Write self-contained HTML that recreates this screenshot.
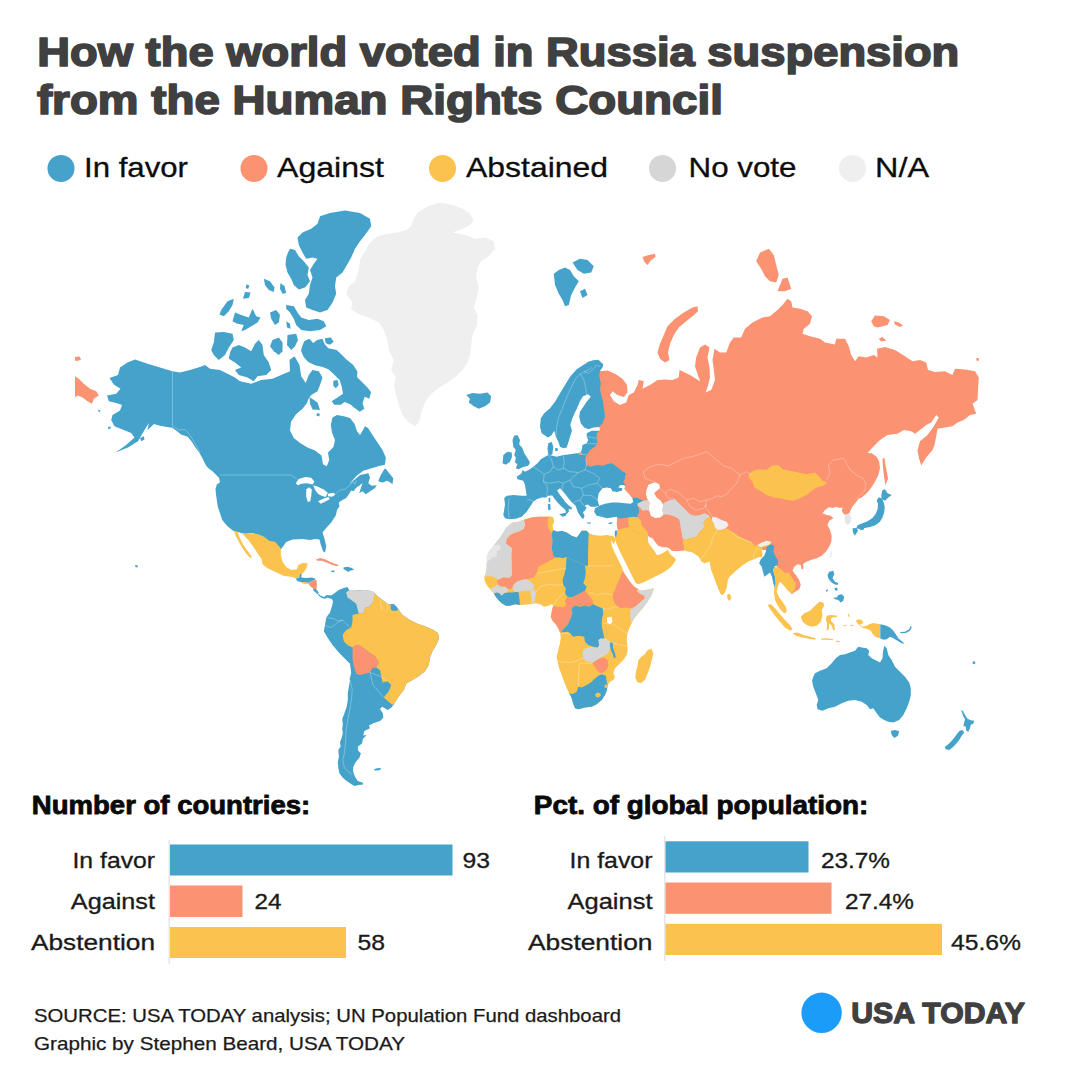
<!DOCTYPE html>
<html><head><meta charset="utf-8">
<style>
html,body{margin:0;padding:0;background:#fff;}
body{width:1080px;height:1080px;overflow:hidden;position:relative;font-family:"Liberation Sans",sans-serif;}
svg{position:absolute;left:0;top:0;}
text{font-family:"Liberation Sans",sans-serif;}
.t{font-weight:bold;fill:#404040;font-size:41px;stroke:#404040;stroke-width:1.7px;stroke-linejoin:round;}
.lg{font-size:28px;fill:#0d0d0d;stroke:#0d0d0d;stroke-width:.3px;}
.h{font-weight:bold;fill:#0a0a0a;font-size:25px;stroke:#0a0a0a;stroke-width:.8px;stroke-linejoin:round;}
.lb{font-size:21.5px;fill:#1a1a1a;stroke:#1a1a1a;stroke-width:.3px;}
.src{font-size:19px;fill:#1a1a1a;stroke:#1a1a1a;stroke-width:.25px;}
</style></head><body>
<svg width="1080" height="1080" viewBox="0 0 1080 1080">
<rect width="1080" height="1080" fill="#fff"/>
<!-- title -->
<text class="t" x="37.3" y="65.6" textLength="922" lengthAdjust="spacingAndGlyphs">How the world voted in Russia suspension</text>
<text class="t" x="36.9" y="113.6" textLength="686" lengthAdjust="spacingAndGlyphs">from the Human Rights Council</text>
<!-- legend -->
<circle cx="61" cy="168.4" r="13.5" fill="#44a2cb"/>
<text class="lg" x="84" y="176.5" textLength="104" lengthAdjust="spacingAndGlyphs">In favor</text>
<circle cx="254" cy="168.4" r="13.5" fill="#fb9272"/>
<text class="lg" x="277" y="176.5" textLength="107" lengthAdjust="spacingAndGlyphs">Against</text>
<circle cx="442.5" cy="168.4" r="13.5" fill="#fcc24e"/>
<text class="lg" x="466" y="176.5" textLength="142" lengthAdjust="spacingAndGlyphs">Abstained</text>
<circle cx="662.5" cy="168.4" r="13.5" fill="#d6d6d6"/>
<text class="lg" x="688.5" y="176.5" textLength="108" lengthAdjust="spacingAndGlyphs">No vote</text>
<circle cx="852.5" cy="168.4" r="13.5" fill="#efefef"/>
<text class="lg" x="875" y="176.5" textLength="54" lengthAdjust="spacingAndGlyphs">N/A</text>
<!-- MAP -->
<g id="map" stroke-linejoin="round">
<path fill="#44a2cb" d="M172.5,371.2 160,367.5 147.5,363.8 135,359.5 127.5,362.5 120,367.5 118,375 109.5,378 113.8,384.5 120.5,388.8 116.2,393.8 107,395.5 108.8,401.2 116.2,403 122,405 120,410.5 112.5,415 111.2,420 114.5,426.2 122.5,429.5 131.2,433 134.5,437.5 125.5,445.5 115.5,452.5 128,447.5 138,441.2 144.5,430 148.8,423 147.5,430 154,424 159,425.5 165.5,426.8 172.2,427.8 176.8,431 181,434.5 187.8,436.8 192.2,442.2 195.5,447.8 199,452.2 202.2,457.8 205.5,464.5 207.8,467.8 212.2,471 216.8,475.5 219,477.8 220,482.2 216.8,484.5 215.5,489 216,494.5 216.8,500 217.8,506.8 220,513.2 222.2,520 227.5,526.2 233.8,531.2 245,533.8 252.5,533 260,535.5 265,538.8 272.5,545 280.5,550 286.2,542 292.5,539.5 302.5,539 310,540 315,539 319.5,539.5 320.5,543.8 323,551.2 325,552.5 326.2,546.2 324.5,538.8 322.5,532.5 326.2,528 331.2,522.5 335.8,515.5 337,510 339.5,506.2 338.8,502.5 342.5,500 346.2,498 349.2,493.8 351.2,490.5 353.8,491.2 355.8,488 359.5,485.5 362.5,483 359.2,493.3 362.5,491.3 365.8,494.2 375,488 376.7,485.3 371.7,485.8 368.3,483.3 370,477.5 368.3,473.3 360,475 353.3,480.8 349.2,484.2 356.7,475.8 363.3,470.8 371.7,468.3 380,465.8 385,464.7 385.8,457.5 382.5,450 377.5,442.5 372.5,435 368,428 365,426.2 363,430 360,435 357,431.2 354.5,423.8 350,418 343.8,416.2 337,415 332.5,417.5 330.8,425 332,432.5 335,440 333.5,447 328,452.5 329.2,460 326.8,466.2 323,464.2 321.5,455.5 315,450.5 307.5,447.5 300,443 293.8,438 290,430.5 291,421.8 296,414.2 302.5,408.8 307,403 308.8,398 311.2,391.2 306.2,383.8 301.2,376.2 299.5,365 294.5,356.2 289.5,360 290,371.2 281.2,375 272.5,378.8 261.2,380 251.2,383.8 240,381.2 235,377.5 227.5,373.8 220,370 210,368.8 205,365 200,367 190,370 180,372.5Z"/>
<path fill="#44a2cb" d="M320,216.2 330,213 345,210.5 360,213 370,218.8 371.2,226.2 365,235 360,241.2 355,248.8 351.2,257.5 346.2,266.2 342.5,272.5 336.2,277.5 335,286.2 336.2,293.8 332.5,302.5 327.5,310 320,312.5 312.5,310 306.2,307.5 305,300 308.8,293.8 310,285 312.5,277.5 310,270 313.8,263.8 317.5,258.8 312.5,257.5 306.2,258.8 302.5,252.5 298.8,245 297.5,237.5 302.5,232.5 311.2,228.8 317.5,223.8Z"/>
<path fill="#44a2cb" d="M290,248.8 295,250 298.8,256.2 303.8,261.2 308.8,267.5 307.5,275 310,281.2 305,287.5 298.8,289.5 293.8,285 291.2,278.8 287.5,272.5 285.5,265 286.2,257.5 288,252.5Z"/>
<path fill="#44a2cb" d="M286.2,305 293.8,306.2 297.5,312.5 301.2,317.5 308.8,320 317.5,318.8 323.8,321.2 326.2,326.2 320,330 310,331.2 301.2,330 296.2,325 293.8,318.8 290,312.5 286.2,308.8Z"/>
<path fill="#44a2cb" d="M263.8,278.8 270,281.2 274.5,287.5 273.8,292 268.8,290 265,285Z"/>
<path fill="#44a2cb" d="M280.5,283 284.5,286.2 286.2,293 282.5,293.8 280,288.8Z"/>
<path fill="#44a2cb" d="M246.2,284.5 249.5,285.5 248,289 245.8,288Z"/>
<path fill="#44a2cb" d="M245,292 250.5,292.5 248.8,298 243,298.8Z"/>
<path fill="#44a2cb" d="M221.2,310 227.5,301.2 233.8,298.8 232.5,305 228.8,311.2 223.8,316.2 219.5,314.5Z"/>
<path fill="#44a2cb" d="M235,312.5 241.2,315 248.8,317.5 252.5,308.8 256.2,316.2 260.5,317.5 257.5,322.5 251.2,326.2 245,330 241.2,331.2 243.8,325 237.5,323.8 232.5,321.2Z"/>
<path fill="#44a2cb" d="M270,312.5 276.2,310 280,315 278.8,322.5 275,325 271.2,318.8Z"/>
<path fill="#44a2cb" d="M286.2,321.2 290,323.8 290.5,328.8 287,327.5Z"/>
<path fill="#44a2cb" d="M215,332.5 223.8,332 232.5,333.8 233.8,340 228.8,347.5 225,355 218.8,360 213.8,355 211.2,350 213.8,342.5Z"/>
<path fill="#44a2cb" d="M232.5,347.5 238.8,345 245,347.5 251.2,351.2 255,343.8 258.8,340 262.5,345 263.8,355 268.8,362.5 271.2,370 266.2,375 257.5,376.2 253.8,381.2 247.5,377.5 238.8,375 235,370 241.2,367.5 235,362.5 228.8,358.8 230,352.5Z"/>
<path fill="#44a2cb" d="M272.5,340 278.8,337.5 282.5,342.5 282.5,351.2 278.8,355 273.8,351.2 270,346.2Z"/>
<path fill="#44a2cb" d="M287.5,335 296.2,333.8 298,340 295,346.2 291.2,350 287,345Z"/>
<path fill="#44a2cb" d="M302,346.7 304.2,341.3 309.2,338.7 313.3,343 317,340 322.5,338.7 324.7,344.2 328.3,348.3 336.7,350 342,355 347,360 353.3,365 357.5,371.7 357,377 362,382 367,387 371,392 369.3,398.7 364.7,396.7 362.5,403.3 364.3,408.7 359.7,411.7 354.7,408 350,404.2 344.7,402 340.8,404.7 334.2,404.7 331.7,401.3 337.5,397.5 343,393.7 341.7,386.7 339.7,380 333.3,373.7 328.3,369.2 322.5,367 315,365.3 308.3,362 303.7,357 301,350.8Z"/>
<path fill="#44a2cb" d="M324.7,338.3 330.8,337.5 333.7,341.7 330,344.7 325.8,343.3Z"/>
<path fill="#44a2cb" d="M333.3,380.8 337.5,380 338.7,385 335.8,388.3 333.3,385.8Z"/>
<path fill="#44a2cb" d="M305,402.5 311.2,395 317.5,391.2 320,385 322.5,377.5 318.8,371.2 312.5,370 308.8,375 305,385 300,390 295,395 295,405Z"/>
<path fill="#44a2cb" d="M309.5,397 317.5,402.5 320,410 312.5,409.5 310,403.8Z"/>
<path fill="#44a2cb" d="M317,413 320,414 319,416.5 316.5,415.5Z"/>
<path fill="#efefef" d="M412.5,221.2 417.5,212.5 427.5,206.2 440,202.5 452.5,205 462.5,208.8 470,213.8 473.8,220 470,225 462.5,228.8 452.5,232.5 465,235 475,238.8 485,237.5 493.8,241.2 495,248.8 488.8,256.2 481.2,261.2 477.5,267.5 476.2,277.5 478.8,287.5 476.2,300 473.8,307.5 477.5,315 477,325 472.5,335 471.2,345 470,355 467.5,362.5 462.5,370 456.2,376.2 447.5,382.5 437.5,388.8 430,395 425,402.5 421.2,412.5 418.8,422.5 415,426.2 407.5,421.2 402.5,415 398.8,405 396.2,395 393.8,385 396.2,377.5 391.2,370 393.8,360 388.8,350 387.5,340 383.8,330 378.8,322.5 368.8,317.5 357.5,313.8 351.2,308.8 352.5,302.5 346.2,293.8 348.8,286.2 355,281.2 358.8,270 360,260 365,251.2 370,242.5 377.5,236.2 387.5,233.8 397.5,232.5 406.2,230 411.2,226.2Z"/>
<path fill="#44a2cb" d="M466.2,395 472.5,393 480,393.8 487.5,392.5 491.2,396.2 490,402.5 485,406.2 478.8,408.8 473.8,406.2 468.8,402.5 470,398.8Z"/>
<path fill="#44a2cb" d="M553.8,273.8 558.8,270 565,267.5 570,270 573.8,276.2 578.8,281.2 575,287.5 571.2,295 568.8,305 565,306.2 562.5,300 558.8,293.8 555,285Z"/>
<path fill="#44a2cb" d="M572.5,262.5 580,258.8 587.5,260 593.8,266.2 591.2,272.5 583.8,273.8 577.5,270Z"/>
<path fill="#44a2cb" d="M580,291.2 585,288.8 587.5,295 582.5,298Z"/>
<path fill="#44a2cb" d="M330,596.2 333.8,593.8 338.8,590 343.8,588 347.5,587 350,591.2 355,590.5 361.2,590 367.5,590.5 373.8,592 377.5,596.2 382.5,600 387.5,603.8 392.5,604.5 396.2,606.2 398.8,610 402.5,615 410,620 417.5,623.8 425,626.2 432.5,629.5 438,633 439,638.8 436.2,645 432.5,651.2 430,657.5 428.8,665 425,671.2 418.8,676.2 412.5,680 406.2,683.8 403.8,690 398.8,696.2 395,702.5 392.5,706.2 391.1,707.8 387.8,710 382.2,706.7 380,708.9 382.8,713.3 383.3,717.8 380,721.1 373.3,723.3 368.9,725.6 370,728.3 364.4,731.1 363.3,735.6 366.7,735 362.8,738.9 362.2,743.3 357.8,746.7 358.3,751.1 360.9,753.3 359.4,757.8 355.6,762.2 353.3,766.7 353.1,771.1 353.9,773.9 355.6,777.8 357.8,781.1 362.8,782.8 363.1,784.4 358.9,785 354.4,786.1 351.1,783.9 346.7,781.1 342.8,777.8 339.4,773.3 338.3,767.8 337.8,762.2 338.9,756.7 338.3,750 340.6,746.7 340,742.2 341.7,737.8 342.8,733.3 342.2,728.9 342.8,724.4 342.2,718.9 344.4,713.3 346.7,706.7 347.8,700 347.8,693.3 348.9,686.7 350,680 349.5,680 351.2,672.5 350,663.8 345,658.8 338.8,652.5 332.5,645 327.5,637.5 323.8,631.2 325,625 326.2,617.5 330,612.5 332,606.2 333,601.2 331.2,597.5Z"/>
<path fill="#d6d6d6" d="M346.2,592.5 350,589.5 356.2,590.5 363.8,590 370,590.5 373.8,592 375,594 376.2,598.8 372.5,602.5 370,606.2 365,608 363.8,612.5 358.8,613.8 357.5,608.8 356.2,603.8 351.2,600 347.5,597.5Z"/>
<path fill="#fcc24e" d="M374.5,593.2 377.5,596.2 382.5,600 387.5,603.8 390.8,604.5 391.2,610 396.2,610.5 398.8,610 402.5,615 410,620 417.5,623.8 425,626.2 432.5,629.5 438,633 439,638.8 436.2,645 432.5,651.2 430,657.5 428.8,665 425,671.2 418.8,676.2 412.5,680 406.2,683.8 403.8,690 398.8,696.2 395,702.5 392.5,705 388,701.2 383.8,697.5 388.8,691.2 391.2,685 387.5,681.2 382.5,682.5 381.2,676.2 380,670 376.2,667.5 378.8,662.5 375,656.2 367.5,651.2 361.2,646.2 356.2,645 352.5,647.5 347.5,645 343.8,641.2 342.5,635 346.2,630 351.2,627.5 352.5,621.2 352.5,615 357.5,613.8 363.8,612.5 365,608 370,606.2 372.5,602.5Z"/>
<path fill="#44a2cb" d="M390.8,604.5 393.8,603.8 397,607.5 396.2,610.5 392.5,610.8 390.8,608.8Z"/>
<path fill="#fb9272" d="M352.5,647.5 356.2,645 361.2,646.2 367.5,651.2 375,656.2 378.8,662.5 376.2,667.5 372.5,668 370,672.5 365,673.8 360,675 356.2,673.8 353.8,666.2 352.5,658.8Z"/>
<path fill="#44a2cb" d="M373.9,769.4 376.7,768.3 380.6,768 380.9,769.4 377.8,770.6 374.7,770.6Z"/>
<path fill="#fcc24e" d="M234.2,530.8 243.3,534.2 251.7,533.3 258.3,534.2 264.2,536.7 269.2,540.8 275,541.7 280.8,548.3 280.8,555 282.5,561.7 286.7,567.5 291.7,570 296.7,569.2 298.3,565 302.5,563 307.5,563.3 306.7,567.5 304.2,571.7 302.5,573.7 300,573.7 299.2,577.5 295.8,578.7 294.2,577.5 290,576.7 283.3,575.8 275,571.7 267.5,568.3 262.5,564.2 261.7,559.2 257.5,553.3 253.3,546.7 248.3,540 244.2,535.8Z"/>
<path fill="#ffffff" d="M237.5,532 243.7,535.3 248,540.3 252.5,546.7 256.7,553.3 259.2,558 255,555.8 251.7,557 247.5,550.8 243.3,545 240,538.3Z"/>
<path fill="#fcc24e" d="M234.2,530.8 237.5,531.7 240,538.3 243.3,545 247.5,550.8 251.7,556.7 250.8,558.3 246.7,554.2 242.5,548.3 238.3,540.8 235.3,535Z"/>
<path fill="#44a2cb" d="M295.8,578.7 299.2,577.5 300,573.7 301.7,573.7 301.3,577.5 306.7,578 311.7,577.5 315.8,578.7 314.2,580.3 310,581.7 308.3,583 305,582 300.8,582 297.5,581.3Z"/>
<path fill="#fcc24e" d="M300.8,582 305,582 308.3,583 307.5,584 303.3,583.7Z"/>
<path fill="#fb9272" d="M308.3,583 310,581.7 314.2,580.3 316.3,579.7 317,584.2 316.3,589.2 313.3,588.7 310.8,586.7 309.2,585Z"/>
<path fill="#44a2cb" d="M313.3,588.7 316.3,589.2 318.7,592.5 317.5,594.2 315,592 313,590Z"/>
<path fill="#44a2cb" d="M317.5,593.3 320.8,595.8 324.2,597 326.7,595 330,595.3 333,597 333.3,599.2 330.8,598.7 327.5,597.5 325,598.7 321.7,598 318.3,595.3Z"/>
<path fill="#fb9272" d="M315.8,559.7 320,558 325,559.2 330,561.7 335,563.7 339.2,565.3 336.7,566.3 331.7,564.7 326.7,562.5 321.7,560.8 317.5,560.8Z"/>
<path fill="#44a2cb" d="M343.3,567.5 347.5,566.7 351.7,568 354.2,569.7 350,570.8 348.3,572 345.8,570.3 343.7,569.2Z"/>
<path fill="#44a2cb" d="M330.8,570.8 334.2,570.5 334.7,572 331.7,572.2Z"/>
<path fill="#44a2cb" d="M546.7,436.7 541.7,433.3 540,426.7 540.8,418.3 544.2,413.3 550,408.3 555,401.7 560,393.3 565,385 570,376.7 576.7,369.2 583.3,365 588.3,361.7 593.3,360.3 598.3,359.7 603.3,364.2 602.5,367.5 600,370.8 606.7,375.8 608.3,390 610,410 608.3,423.3 602.5,426.7 599.2,427 593.3,427.5 588.3,429.2 584.2,427.5 580.8,423.3 579.2,416.7 580,411.7 583.3,406.7 586.7,401.7 590.8,396.7 588.3,394.3 583,396.3 579.7,401.7 577,408.3 574.5,413.3 572,419.2 570.3,425 572,430.8 570,436.7 568.3,442.5 566.7,447.5 563.3,448.3 560,446.7 558.3,441.7 555.8,436.7 554.2,430.8 551.7,435 548.3,437.5Z"/>
<path fill="#44a2cb" d="M548.3,443.3 551.7,441.7 553.3,446.7 552.5,453.3 550.8,455.8 548.3,455 547.5,448.3Z"/>
<path fill="#44a2cb" d="M555,448.3 557.5,448 558,450.8 555.3,451.3Z"/>
<path fill="#44a2cb" d="M514.2,435.8 517.5,435 520,440 519.2,444.2 522.5,448.3 524.2,453.3 527.5,458.3 530,462.5 528.3,465.8 523.3,467 518.3,469.2 515.8,468.3 517.5,464.2 515,462.5 515.8,457.5 514.2,455 515.8,450 513.3,446.7 512.5,440Z"/>
<path fill="#44a2cb" d="M503.3,455 507.5,451.7 511.7,452.5 512,456.7 510,461.7 505.8,464.7 502.5,463.3 503,459.2Z"/>
<path fill="#44a2cb" d="M548.3,455 552.5,455.8 556.7,456.7 563.3,455 570,454.2 576.7,453.3 580,453.3 581.7,450 582.5,445 586.7,443.3 588.3,440 586.7,436.7 586.7,433.3 591.7,430.8 596.7,430.8 599.2,430.8 611.7,430.8 630,456.7 633.3,483.3 626.7,486.7 623.3,485 620,485.3 618.3,487.5 622.5,488.3 621.7,490.8 616.7,492 612.5,491.3 610.8,488.3 606.7,487.5 602.5,488.3 598.7,493.3 597.5,500 599.2,505.8 595.8,506.7 590.8,506.7 587.8,504.5 585,505.5 586.7,507.8 585,510.5 582.8,512.2 584.5,515.5 583.8,518.3 582.2,518.7 580,515.5 577.8,512.2 576.7,508.8 575.5,505.5 572.2,502.8 568.8,498.8 565.5,494.5 562.8,491.2 560,488.3 557.2,490.5 558.8,493.3 562.2,497.8 565.5,502.2 568.8,505.5 572.2,507.8 571.2,509.5 568.8,508.8 568.8,511.7 566.2,514.5 565.5,510 561.7,506.7 557.8,502.8 554.5,498.8 552.2,495.5 548.3,495.8 545.8,497.5 541.7,497.5 536.7,499.2 533.3,501.7 530,506.7 526.7,511.7 521.7,516.7 515.8,518.7 509.2,519.2 505,518.3 503.3,515 504.2,510 505,504.2 504.2,498.3 506.7,495.8 513.3,495 521.7,495.8 526.7,495.8 525.8,490 525,485 523.3,480.8 517.5,479.2 516.7,476.7 521.7,473.3 522.5,470 525,471.7 530,469.2 533.3,466.7 537.5,463.3 540.8,459.2 545,456.7 548.3,455Z"/>
<path fill="#44a2cb" d="M559.2,514.2 563.3,513.3 566.7,512.5 565.8,515.8 562.5,516.7Z"/>
<path fill="#44a2cb" d="M547.8,504.2 550.2,503.7 550.7,509.7 548.3,510.3Z"/>
<path fill="#44a2cb" d="M548.5,498 550.2,497.7 550.3,502 548.8,502.2Z"/>
<path fill="#44a2cb" d="M586.7,522.5 590.8,522.5 590.8,523.7 586.7,523.3Z"/>
<path fill="#44a2cb" d="M608.3,523 611.7,522 612.5,523.3 609.2,524.2Z"/>
<path fill="#fb9272" d="M600,370.8 600,371.2 607.5,370.5 615,373.8 622.5,378.8 627,385 627.5,392.5 623.8,397 617.5,395 612.5,391.2 610,395 613.8,401.2 620,405 626.2,402.5 628.8,395 633.8,392.5 637.5,385 638.8,380 643.8,381.2 642.5,388.8 650,385 657.5,380 665,379.5 672.5,380 678.8,377.5 679.5,370 690,375 700,381.2 695,366.2 696.2,357.5 700,347.5 705,344.5 709.5,347.5 707.5,357.5 709.5,367.5 710,377.5 707.5,387.5 705.5,392.5 711.2,390 715,380 713.8,370 712.5,360 714.5,348.8 720,352.5 726.2,352.5 730,342.5 733.8,337.5 741.2,337.5 745,328.8 752.5,322.5 762.5,317.5 770,316.2 777.5,310 782.5,305 787.5,298.8 791.2,301.2 792.5,307.5 800,308.8 807.5,311.2 812,316.2 810,323.8 803.8,328.8 802.5,333.8 810,336.2 820,338.8 825,342.5 835,344.5 836.2,338.8 845,338.8 848.8,346.2 851.2,355 855,361.2 858.8,356.2 866.2,357.5 873.8,355 877.5,357.5 877,348.8 885,347 895,350 905,356.2 912.5,361.2 920,360 926.2,362.5 928,370 935,372 945,371.2 952.5,375 955,368.8 965,369.5 975,371.2 978.8,377.5 978,390 977.5,400 972.5,403.8 976.2,413.8 970,415 963.8,420 957.5,422.5 952.5,426.2 945,427.5 937.5,428.8 936.2,436.2 934.5,445 932.5,450 926.2,457.5 921.2,465.5 918.8,457.5 917.5,450 920,441.2 927.5,435 933.8,426.2 938.8,417.5 936.2,415 931.2,422.5 926.2,425 920,430 915,433.8 911.2,431.2 903.8,430 897.5,433.8 887.5,435 880,440 872.5,447.5 867.5,453 871.7,453.3 876.7,456.7 879.2,461.7 880,468.3 878.3,475 875,481.7 870.8,488.3 866.7,493.3 861.7,497.5 858.8,498.8 855.5,502.8 852.2,506.7 850.5,510.5 849.5,513.3 845,515 842.8,512.8 841.7,510 842.8,507.8 838.8,507.8 835.5,506.7 833.3,508 828.8,507.2 825,510 822.5,513.3 826.7,515 830.8,515.8 833.3,518.3 829.2,520.8 827.5,525 830,530 831.7,535.8 831.3,541.7 829.2,546.7 825.8,551.7 821.7,555.8 816.7,558.3 810,560.3 805,562.5 803,564.2 803.7,568.3 801.7,569.7 800.8,565 797.5,564.2 794.2,566.7 792.5,570.8 795.8,575 799.2,580 800.8,585 799.2,589.2 795,591.7 791.7,594.2 791.7,586.7 781.7,573.3 770,556.7 770,550 756.7,550 731.7,543.3 710,543.3 693.3,546.7 684.2,550.3 681.7,550.8 676.7,551.2 671.7,550.7 669.7,548.8 667,547.3 662.5,547.3 658.3,545.7 655.3,542.3 652.5,538.3 649.3,537 648.3,535.8 646.7,538.3 633.3,536.7 619.2,531.7 617.2,528.3 616.7,523.3 617.2,518.7 616.7,516.7 623.3,513.3 636.7,505 632.5,498.3 631.7,497.5 629.2,494.2 625.8,490.8 624.2,488.3 625.8,485.8 624.2,483.3 623.3,482.5 625,478.3 625.8,473.3 621.7,470.8 616.7,466.7 611.7,463.3 606.7,464.2 603.3,465.8 596.7,465 590,466.7 586.7,465 585.8,460 585,458.3 586.7,455 590,450 595,446.7 597.5,443.3 596.7,438.3 596.7,433.3 600,430 599.2,426.7 602.5,423.3 605,416.7 604.2,410 603.3,403.3 601.7,396.7 600,390 600.8,383.3 599.2,375.8 600,370.8Z"/>
<path fill="#fb9272" d="M578.7,452.7 582,452.3 582.3,454.7 579,455Z"/>
<path fill="#fb9272" d="M657.5,352.5 660,343.8 663.8,335 667.5,326.2 675,318.8 683.8,312.5 692.5,307.5 697.5,306.2 698,311.2 692.5,316.2 686.2,321.2 678.8,327.5 673.8,335 670,343.8 668,352.5 669.5,360 665,362.5 660,358.8Z"/>
<path fill="#fb9272" d="M642.5,257 648.8,255 655,253.8 655.5,257 651.2,260 647.5,265 644.5,262Z"/>
<path fill="#fb9272" d="M756.2,261.2 760,252.5 768.8,248.8 773.8,255 776.2,265 778.8,275 776.2,282.5 770,281.2 765,276.2 761.2,268.8Z"/>
<path fill="#fb9272" d="M777.5,291.2 782.5,278.8 787.5,277.5 791.2,288.8 785,291.2Z"/>
<path fill="#fb9272" d="M871.2,321.2 875,315.5 883.8,316.2 890,320 887.5,325 877.5,327.5 873.8,326.2Z"/>
<path fill="#fb9272" d="M893.8,321.2 898.8,322.5 903,325.5 900,327 895,324.5Z"/>
<path fill="#fb9272" d="M878.8,338.8 882.5,337 886.2,340.5 881.2,341.5Z"/>
<path fill="#fb9272" d="M976.2,358.2 978.8,358 979,360.5 976.8,361Z"/>
<path fill="#fb9272" d="M882.5,458.8 884.5,458 885.5,465 887,472.5 888,478.8 885.5,485 884,476.2 883,467.5Z"/>
<path fill="#44a2cb" d="M599.2,505.8 605,503.7 611.7,502.5 618.3,502.5 625,503.3 630.8,503.7 635,500.8 638.3,506.7 639.2,511.7 636.7,517.5 630,517.5 623.3,518.3 618.3,518.3 616.7,516.7 611.7,517.5 606.7,518.3 601.7,516.7 596.7,515.8 594.2,511.7 595,508.3 597.5,507Z"/>
<path fill="#44a2cb" d="M632.5,498.3 636.7,497.5 640,499.2 643.3,500.8 640,503 635.8,503.3 633,501.7Z"/>
<path fill="#d6d6d6" d="M638.3,503.3 643.3,500.8 647.5,500 650,503.3 648.3,507.5 649.2,510.8 645.8,510 642.5,510.8 640,507.5 637.5,505.8Z"/>
<path fill="#ffffff" d="M651.7,483.3 655.8,482.5 659.2,484.2 660,488.3 656.7,490.8 654.2,493.3 656.7,497.5 660.8,500.8 663.3,505 662.5,510 663.3,515 660,517.5 655,518 650.8,515.8 649.2,510.8 648.7,506.7 650,503.3 647.5,499.2 645.8,494.2 646.7,489.2 648.3,485Z"/>
<path fill="#d6d6d6" d="M663.3,505 663.3,503.3 670,500 675,499.2 677.5,501.7 680.8,505 685,509.2 690,514.2 695,515.8 700,515 705,513.3 710,516.3 705.8,519.2 703.3,523.3 705,526.7 701.7,530 698.3,533.3 696.7,536.7 690,538.3 685.8,540 682.5,538.3 681.7,533.3 680.8,528.3 680,523.3 679.2,519.2 675,516.7 670,515 665.8,514.2 663.3,515 662.5,510Z"/>
<path fill="#fcc24e" d="M628.3,517.5 633.3,516.7 638.3,517.5 640.8,520 641.7,525 644.2,528.3 647.5,532.5 648.3,535.8 647.8,537.8 645.8,536.3 641.7,534.2 636.7,533.3 632.5,530 629.2,526.7 628,522.5Z"/>
<path fill="#fcc24e" d="M617.5,530 623.3,528.3 629.2,526.7 632.5,530 636.7,533.3 641.7,534.2 645.8,536.3 647.8,537.8 648.3,542.5 650.8,546.2 653.3,549.5 655.3,552.5 657,555.3 659.7,554.5 663.3,552.8 666.3,551 667.8,549.7 669,552 670.3,554.5 673.3,556.7 676,559.2 675,561.7 672.5,565 668.3,569.2 663.3,572.5 658.3,575 653.3,577.5 648.3,580 643.3,582.5 638.3,584.3 635.7,583 632.5,576.7 628.3,568.3 624.2,560 620,551.7 616.7,544.2 615,539.2 616.3,533.3Z"/>
<path fill="#44a2cb" d="M615,530.8 616.7,530 617,533.3 615.8,538.3 614.7,535Z"/>
<path fill="#fcc24e" d="M684.2,550.3 686.7,551.2 692.2,552.2 695.5,554.5 698.8,556.7 701.2,561.2 704.5,563.3 707.8,562.2 709.5,561.2 711.2,570 714.5,578.8 717.8,587.8 720.5,593.8 722.2,595.3 724.5,593.3 726.7,587.8 727.8,580 729.5,576.7 735.5,571.2 742.2,565.5 748.8,561.2 755.5,558.8 759.2,556.7 761.7,557.5 762.5,554.2 761.7,550 763.3,546.7 766.7,546.7 770.8,544.2 771.7,541.7 766.7,540.8 761.7,542.5 757.5,545 755,545.8 751.7,542.5 746.7,540 740,536.7 735,533.3 730,530.8 728.3,528.3 721.7,529.7 717.5,530 715,527.5 713.7,523.3 711.7,520 710,516.3 705.8,519.2 703.3,523.3 705,526.7 701.7,530 698.3,533.3 696.7,536.7 690,538.3 685.8,540 682.5,538.3 683.3,543.3Z"/>
<path fill="#efefef" d="M712.5,516.7 716.7,517.5 721.7,520 726.7,521.7 728.7,525 725.8,528.3 721.7,529.7 717.5,530 715,527.5 713.7,523.3 711.7,520Z"/>
<path fill="#efefef" d="M757.5,545 761.7,542.5 766.7,540.8 770.8,541.7 770,544.2 765,545.8 760,547Z"/>
<path fill="#fcc24e" d="M727.5,594.2 729.7,593.7 731.3,597.5 730,600.8 728,600 727,596.7Z"/>
<path fill="#fcc24e" d="M748.3,475 753.3,470.8 760,469.2 766.7,470 771.7,465.8 778.3,465 782.5,469.2 790,470.8 798.3,472.5 806.7,474.2 815,472.5 819.2,476.7 822.5,480.8 827.5,482.5 823.3,485.8 816.7,487.5 811.7,490.8 806.7,495 800,498.3 793.3,500.8 786.7,500 780,498.3 773.3,497.5 766.7,495 760,490.8 754.2,487.5 752.5,481.7 749.2,478.3Z"/>
<path fill="#44a2cb" d="M766.7,546.7 770.8,544.2 774.2,545.8 773.3,551.7 775.8,556.7 778.3,560.8 777.5,565 774.2,566.7 773.3,570.8 775,576.7 775.8,583.3 775,588.3 773.3,583.3 772,576.7 770,572.5 766.7,575 764.2,576.7 763,571.7 761.7,566.7 759.2,563.3 760.8,559.2 764.2,555.8 765.8,551.7Z"/>
<path fill="#fcc24e" d="M774.2,566.7 778.3,567.5 781.7,570 785,573.3 788.3,572.5 790.8,575.8 793.3,580 795.8,583.3 795.3,588.3 791.7,594.2 786.7,589.2 783.3,585 780,581.7 778.3,585 777,590 775.8,595 777.5,600 780,605 783.3,609.2 785.8,612.5 784.2,613.3 780.8,610 777.5,605 775,600 774.2,593.3 775.3,588.3 775.8,583.3 775,576.7 773.3,570.8Z"/>
<path fill="#e4e6ea" d="M849.5,513.3 851.2,517.8 850.5,522.2 847.8,525 845.5,523.3 844.5,518.8 845,515Z"/>
<path fill="#efefef" d="M830,551.7 832,550.8 831.7,556.7 830,557.5Z"/>
<path fill="#44a2cb" d="M882.5,490 885,489.2 887.5,493.3 891.7,495 888.3,497.5 885,500.8 881.7,499.2 881.3,495Z"/>
<path fill="#44a2cb" d="M878.3,497.5 881.7,498 883.7,502.5 884.7,506.7 884.3,512 882.5,517.5 879.7,522 875.3,525.3 870,527 864.7,528 860,529.3 856.3,528.3 857.5,525.3 862.5,523.3 867.5,521.2 872.5,518 875.8,513.7 877.7,508.7 878,503.7 876.7,500.8Z"/>
<path fill="#44a2cb" d="M852.5,528.3 856.7,528 858,530.8 855.8,534.2 855,535.8 853,532.5Z"/>
<path fill="#44a2cb" d="M860,528.3 864.2,527.5 863.7,529.7 860.3,530.3Z"/>
<path fill="#44a2cb" d="M829.2,571.7 833.3,570.8 834.2,574.2 832.5,578.3 835,581.7 838.3,583.3 837.5,585 834.2,584.2 830.8,581.7 828.3,578.3 827.5,575Z"/>
<path fill="#44a2cb" d="M834.2,588.3 836.7,587.5 838,590 835.8,590.8Z"/>
<path fill="#44a2cb" d="M838.3,595 841.7,594.2 844.2,596.7 843.3,600.8 840.8,602.5 838.3,600 835,599.2 833.3,597.5 836.7,597.5Z"/>
<path fill="#44a2cb" d="M825.8,590.8 827.5,589.2 828.3,590 826.7,592Z"/>
<path fill="#fcc24e" d="M774.2,586.7 775.8,585.8 776.7,591.7 779.2,597.5 782.5,601.7 785.8,606.7 786.7,611.7 784.7,612.5 782.5,608.3 779.2,604.2 775.8,599.2 774.2,593.3Z"/>
<path fill="#fcc24e" d="M767.5,605 770.8,604.2 775,608.3 780,614.2 785,620 790,625 792.5,629.2 790,630.8 785,627.5 780,621.7 775,615.8 770.8,610Z"/>
<path fill="#fcc24e" d="M792.5,633.3 797.5,632.5 803.3,635 810,636.7 815.8,638.3 815,639.7 809.2,638.7 802.5,637.5 795.8,635.8Z"/>
<path fill="#fcc24e" d="M820.8,638.7 826.7,638.3 833.3,639.2 833,640.3 826.7,639.7 821,639.7Z"/>
<path fill="#fcc24e" d="M835.8,640.8 840,641.3 839.7,642.3 836,642Z"/>
<path fill="#fcc24e" d="M800.8,616.7 804.2,613.3 810,610.8 815,605.8 819.2,601.7 823.3,602.5 824.2,605.8 821.7,610 822.5,615.8 820.8,621.7 816.7,625.8 811.7,626.7 806.7,625 802.5,621.7Z"/>
<path fill="#fcc24e" d="M826.7,615.8 830,615 836.7,615.5 837,617 831.7,617.5 830.8,620.8 834.2,624.2 835,630 833.3,630.3 831.7,625.8 829.2,623.3 828.7,630 826.7,630 827,623.3 825.8,619.2Z"/>
<path fill="#fcc24e" d="M848,614.2 849.2,613.7 849.7,616.7 848.3,616.7Z"/>
<path fill="#fcc24e" d="M843.3,625.3 846.7,625.2 846.7,626 843.3,626.2Z"/>
<path fill="#fcc24e" d="M850,625 853.3,624.8 853.3,625.7 850,625.8Z"/>
<path fill="#fcc24e" d="M855.8,620.8 858.3,619.2 861.7,620 863.3,623.3 860,624.2 862,626.7 866.7,625.8 869.2,624.2 873.3,623 880.3,624.2 880.3,638.3 876.7,637.5 873.3,635 870.8,630.8 866.7,628.7 863.3,628.3 860,625.8 857.5,623.3Z"/>
<path fill="#44a2cb" d="M880.3,624.2 885,625.3 890,627.5 893.3,630.8 895.8,634.2 898.3,638.3 902.5,641.7 904.7,643.7 901.7,643.3 897.5,640.8 893.3,638.3 890,636.7 886.7,639.2 883.3,639.7 880.3,638.3Z"/>
<path fill="#44a2cb" d="M900,632 905,631.7 909.2,629.2 910.8,625.8 911.7,627.5 910,630.8 905.8,633 900.8,633.3Z"/>
<path fill="#44a2cb" d="M813.3,676.7 815,673.3 820,670.8 826.7,668.3 831.7,663.3 835.8,658.3 840,655 845,654.2 850,652.5 855,650.8 858.3,646.7 861.7,647.5 866.7,648.3 869.2,650.8 868.3,655 871.7,658.3 876.7,660.8 880,662.5 882.5,658.3 883,651.7 884.2,645.8 886.7,648.3 888.3,655 891.7,660 895,666.7 900,671.7 905,676.7 909.2,682.5 910.8,688.3 910.8,695 909.2,701.7 906.7,708.3 903.3,715 899.2,720 893.3,722.5 888.3,721.7 884.2,720 880,717.5 876.7,713.3 873.3,708.3 870,709.2 866.7,705 861.7,701.7 855,700 848.3,700.8 841.7,703.3 835,706.7 828.3,708.3 822.5,710.8 817.5,709.2 816.7,705 818.3,700 815.8,693.3 813.3,686.7 812,680.8Z"/>
<path fill="#44a2cb" d="M890.8,730.8 895,730 899.2,731.3 898,735.8 894.2,738 891.7,735Z"/>
<path fill="#44a2cb" d="M961.2,710 962.8,710.8 965,715 967.5,718.7 970.8,720.3 974.2,720.8 973.3,723.7 970.8,724.7 970,728.3 968.3,731.7 966.3,730.8 965.8,726.7 963.3,725.8 964.2,722.5 965,719.2 963,715.8Z"/>
<path fill="#44a2cb" d="M959.7,730.8 962.5,730 964.2,732.5 961.7,735.8 959.2,740 955.8,744.2 952.5,747.5 949.2,750 945.8,749.2 944.7,747 948.3,744.2 951.7,740.8 955,736.7 957.5,733.3Z"/>
<path fill="#44a2cb" d="M972.5,661.7 975,661.3 975.3,663.7 973,664.2Z"/>
<path fill="#fcc24e" d="M512.5,522.5 518.3,521.7 525,519.2 531.7,517.5 538.3,516.7 545,516.7 550,516.3 553.3,517.5 554.2,521.7 552.5,525.8 553.3,530 557.5,531.7 561.7,530.8 566.7,532.5 571.7,535.8 576.7,537.5 579.2,534.2 581.7,530.8 586.7,530.8 589.2,533.3 593.3,535 600,535.8 606.7,535 610.8,535.8 613.3,535.8 615.3,539.2 614.2,544.7 611.3,540 611.7,545.8 615,553.3 618.3,560 621.7,566.7 624.2,573.3 629.2,580.8 634.2,586.7 638.3,589.2 640.8,590.8 645,590 650,589.2 654.2,588 651.7,595 647.5,601.7 643.3,607.5 638.3,613.3 634.2,618.3 631.7,623.3 629.2,628.3 627.5,633.3 626.7,640 627.5,646.7 627.5,650 627.5,650 626.7,655 623.3,660 618.3,665 615,668.3 613.3,673.3 615,676.7 613.3,680 610,681.7 607.5,685 607,690 605,695 601.7,700 596.7,704.2 591.7,706.7 585,707.5 578.3,709.2 575,708.3 573,703.3 571.7,698.3 569.2,693.3 566.7,688.3 564.2,681.7 561.7,675 559.2,668.3 557.5,661.7 556.7,656.7 558.3,650 560,643.3 560.8,636.7 560,632.5 560,632.5 558.3,628.3 555.8,624.2 552.5,620.8 550.8,616.7 551.7,611.7 552.5,608.3 553.3,605.8 551.7,604.2 548.3,605.8 544.2,606.7 540,604.2 535.8,603.3 530,604.2 525,604.7 520,605 515,604.2 510,605.8 505.8,605.8 501.7,603.3 498.3,600 495,595.8 492.5,591.7 489.2,588.3 486.7,585 485,581.7 484.2,577.5 485.8,573.3 486.7,568.3 486.7,563.3 488.3,556.7 490.8,550 494.2,545 497.5,540.8 500.8,536.7 503.3,532.5 505.8,528.3 509.2,525Z"/>
<path fill="#d6d6d6" d="M512.5,522.5 518.3,521.7 524.2,519.7 525.3,525 523.7,529.2 518.7,531.7 513.7,533.3 510,535.3 506.7,539.2 506,543.3 512,548 511.7,555 512,575 510,578 503.3,577.5 498.3,579.7 493.3,576.7 487.5,575.8 485,577 485.8,573.3 486.7,568.3 486.7,563.3 488.3,556.7 490.8,550 494.2,545 497.5,540.8 500.8,536.7 503.3,532.5 505.8,528.3 509.2,525Z"/>
<path fill="#fb9272" d="M524.2,519.7 531.7,517.5 538.3,516.7 545,516.7 548.3,516.7 547.5,523.3 548.3,528.3 551.7,533.3 552.5,541.7 551.7,548.3 553.3,555 555,557.5 546.7,562.5 538.3,566.7 536.7,573.3 533.3,577.5 526.7,579.2 521.7,580 516.7,581.7 513.3,585 512.5,588.3 508.3,589.2 505,586.7 500.8,586.7 497.5,584.2 497.5,580 498.3,579.7 503.3,577.5 510,578 512,575 511.7,555 512,548 506,543.3 506.7,539.2 510,535.3 513.7,533.3 518.7,531.7 523.7,529.2 525.3,525Z"/>
<path fill="#44a2cb" d="M551.7,533.3 553.3,530.3 557.5,531.7 561.7,530.8 566.7,532.5 571.7,535.8 576.7,537.5 579.2,534.2 581.7,530.8 586.7,530.8 588.7,533.3 588.3,541.7 588,555 588,565.8 585.8,565.8 585,565.8 566.7,556.7 563.3,558.3 560,557.5 555,557.5 553.3,555 551.7,548.3 552.5,541.7Z"/>
<path fill="#44a2cb" d="M566.7,556.7 585,565.8 585.8,571.7 585,578.3 583.3,583.3 586.7,586.7 585,590.8 581.7,592.5 576.7,595 571.7,597.5 567.5,596.7 565,593.3 565.8,588.3 563.3,585 562.5,580 564.2,575 565.8,568.3 566.3,561.7Z"/>
<path fill="#fb9272" d="M620.8,575 623,571.3 624.2,573.3 629.2,580.8 634.2,586.7 638.3,589.2 636.7,590.8 639.2,593.3 644.2,595.8 645,598.3 640,602.5 635,606.7 630,608.3 625,607.5 620,608.3 615.8,605 613.3,600 612.5,595 615,590 616.7,585 619.2,580Z"/>
<path fill="#d6d6d6" d="M638.3,589.2 640.8,590.8 645,590 650,589.2 654.2,588 651.7,595 647.5,601.7 643.3,607.5 638.3,613.3 634.2,618.3 631.7,623.3 630,616.7 630.3,610 635,606.7 640,602.5 645,598.3 644.2,595.8 639.2,593.3 636.7,590.8Z"/>
<path fill="#fb9272" d="M567.5,596.7 571.7,597.5 576.7,595 581.7,592.5 585,590.8 588.3,595 592.5,600 593.3,604.2 589.2,606.7 585,605.8 580,606.7 575,605.8 571.7,608.3 568.3,609.2 565.8,605.8 565,600.8Z"/>
<path fill="#fb9272" d="M553.3,605.8 556.7,606.7 563.3,607.5 565.8,605.8 568.3,609.2 571.7,608.3 572.5,613.3 570,620 567.5,625 563.3,629.2 560,632.5 558.3,628.3 555.8,624.2 552.5,620.8 550.8,616.7 551.7,611.7 552.5,608.3Z"/>
<path fill="#44a2cb" d="M571.7,608.3 575,605.8 580,606.7 585,605.8 589.2,606.7 593.3,604.2 598.3,606.7 602.5,608.3 603.3,613.3 601.7,620 601.7,626.7 603.3,633.3 604.2,638.3 600.8,639.2 599.2,645 598.3,647.5 593.3,646.7 588.3,645 585,641.7 584.2,636.7 578.3,635.8 573.3,636.7 570,633.3 567.5,631.7 560.8,632.5 563.3,629.2 567.5,625 570,620 572.5,613.3Z"/>
<path fill="#ffffff" d="M607,617.5 611.7,616.7 612.5,621.7 610,624.2 607,622.5Z"/>
<path fill="#d6d6d6" d="M583.3,650 586.7,647.5 591.7,646.7 596.7,648.3 599.2,645.8 598.3,640 600.8,638.3 605.8,639.2 609.2,641.7 610,648.3 608.3,653.3 604.2,655.8 600,658.3 595.8,660.8 591.7,662.5 586.7,661.7 583.3,658.3 582.5,654.2Z"/>
<path fill="#44a2cb" d="M610.3,642.5 612.5,642 613,647.5 615,653.3 615.8,657.5 613.8,658 612.5,653.3 610.8,650 610,645.8Z"/>
<path fill="#fb9272" d="M592.5,663.3 595.8,660.8 600,658.3 604.2,657.5 607.5,660 608.3,665.8 605.8,670.8 601.7,673.3 598.3,671.7 595,667.5Z"/>
<path fill="#44a2cb" d="M569.2,693.3 572.5,694.2 576.7,691.7 578.3,686.7 581.7,687.5 586.7,685 590.8,682.5 594.2,679.2 598.3,675.8 601.7,674.2 605.8,675.8 606.7,681.7 607.5,685 607,690 605,695 601.7,700 596.7,704.2 591.7,706.7 585,707.5 578.3,709.2 575,708.3 573,703.3 571.7,698.3Z"/>
<path fill="#fcc24e" d="M595.3,694.2 597.5,692.5 600.3,693.3 600.8,695.8 598.3,697.5 595.8,696.7Z"/>
<path fill="#fcc24e" d="M604.2,685 606.7,684.2 607,687.5 605,688.3Z"/>
<path fill="#fcc24e" d="M647.5,650.3 651.3,648.7 653.3,653.3 651.7,660.3 650,667 647.5,673.7 645,679.7 641.3,683 637.5,682.3 635.3,678 636,671.7 637.5,665.8 638.3,660.3 641.2,657 644.7,654.3Z"/>
<path fill="#d6d6d6" d="M490.8,588.3 495,586.7 497.5,584.2 500.8,586.7 505,586.7 508.3,589.2 507.5,592.5 504.2,593.3 501.7,595.8 499.2,593.3 496.7,592.5 494.2,593.3 491.7,591.3Z"/>
<path fill="#44a2cb" d="M494.2,593.3 496.7,592.5 499.2,593.3 501.7,595.8 504.2,593.3 507.5,592.5 512.5,592.5 518.3,591.7 519.2,596.7 520,605 515,604.2 510,605.8 505.8,605.8 501.7,603.3 498.3,600 495,595.8Z"/>
<path fill="#d6d6d6" d="M513.3,585 516.7,581.7 521.7,580 526.7,579.2 530.8,581.7 534.2,585 533.3,589.2 529.2,590.8 523.3,590.8 518.3,591.7 514.2,591.7 512.5,588.3Z"/>
<path fill="#d6d6d6" d="M530,590.8 534.2,589.2 535.8,592.5 535,600 534.2,603.3 531.7,603.7 531.3,596.7Z"/>
<path fill="#fb9272" d="M75,376.2 78.8,378.8 83.8,383.8 90,388.8 96.2,391.2 98.8,395.5 93.8,398.8 92,403.8 87.5,401.2 82.5,397.5 77.5,395.5 75,397.5Z"/>
<path fill="#fb9272" d="M75,357 79.5,356.5 81.2,359.5 77,361 75,360.5Z"/>
<path fill="#44a2cb" d="M97.5,409.5 100.5,410.5 99.5,412.5Z"/>
<path fill="#44a2cb" d="M108,427 110.5,426.5 110.8,428.5 108.2,429Z"/>
<path fill="#44a2cb" d="M140,438 143.8,436.2 144.5,439.5 141.2,441.2Z"/>
<path fill="#ffffff" d="M295.8,483.2 298.7,479 305.5,477 311.2,477.7 314.5,481.8 312.5,484.5 307,483.2 301.3,483.8 297.8,485.3Z"/>
<path fill="#ffffff" d="M306.2,489.5 309,487.3 311.8,489.5 311.2,496.3 310.3,501.2 307.7,502 306.2,496.3Z"/>
<path fill="#ffffff" d="M313.2,485.3 318,486.7 323.7,489.5 327.8,492.8 325.7,497 321.5,495.7 318,493.7 315.3,490.2Z"/>
<path fill="#ffffff" d="M318,501.2 323.7,498.5 328.5,497 329.8,499.2 325,501.7 320.8,503.7Z"/>
<path fill="#ffffff" d="M327.8,493.7 333.3,492.8 335.3,494.7 332,496.7 328,496.3Z"/>
<path fill="#44a2cb" d="M378.3,480.8 380.8,475 385,468.3 386.7,470 389.2,473.3 393.3,478.3 392.5,484.2 389.2,481.7 386.7,480.8 383.3,482.5 380,482Z"/>
<path fill="#44a2cb" d="M135,565 138,565.5 137.5,567.5 135.5,567Z"/>
<path fill="#e6e6e6" d="M494.2,545 500,544.7 500.3,550 496.7,550.8 496.7,556.7 492.5,557.5 488.7,560.8 486.7,561.3 486.7,556.7 488.3,552 490.8,548.7Z"/>
<path fill="none" stroke="#fff" stroke-opacity=".42" stroke-width=".7" d="M172.5,371.2 172.5,426.2 178.8,430.0 185.0,429.5 190.0,435.0 196.2,445.5 200.0,453.0"/>
<path fill="none" stroke="#fff" stroke-opacity=".42" stroke-width=".7" d="M220.0,475.0 287.5,475.0 291.7,475.3 296.7,479.2"/>
<path fill="none" stroke="#fff" stroke-opacity=".42" stroke-width=".7" d="M335.0,494.2 340.0,490.0 345.0,489.2 350.0,485.0 352.5,481.7 355.0,484.2 356.7,480.0"/>
<path fill="none" stroke="#fff" stroke-opacity=".42" stroke-width=".7" d="M655.8,482.5 645.0,478.3 643.3,471.7 650.0,466.7 660.0,464.2 668.3,465.8 676.7,461.7 683.3,458.3 691.7,456.7 700.0,454.2 706.7,451.7 716.7,460.0 723.3,465.8 731.7,468.3 740.0,475.0 736.7,483.3 731.7,488.3 726.7,494.2 721.7,496.7 716.7,495.8 712.5,498.3 706.7,500.0 700.0,501.7 693.3,498.3 686.7,500.0 683.3,496.7 676.7,491.7 670.0,489.2 665.0,493.3 660.0,488.3"/>
<path fill="none" stroke="#fff" stroke-opacity=".42" stroke-width=".7" d="M706.7,500.0 705.0,506.7 710.0,513.3 712.5,516.7"/>
<path fill="none" stroke="#fff" stroke-opacity=".42" stroke-width=".7" d="M686.7,500.0 690.0,506.7 696.7,510.0 703.3,508.3 706.7,505.0 705.0,506.7"/>
<path fill="none" stroke="#fff" stroke-opacity=".42" stroke-width=".7" d="M665.0,493.3 668.3,498.3 675.0,499.2"/>
<path fill="none" stroke="#fff" stroke-opacity=".42" stroke-width=".7" d="M826.7,480.0 830.0,473.3 828.3,465.0 833.3,460.0 843.3,458.3 846.7,463.3 850.0,470.0 856.7,475.0 863.3,478.3 865.8,483.3 865.0,490.0 860.0,495.0 856.7,499.2"/>
<path fill="none" stroke="#fff" stroke-opacity=".42" stroke-width=".7" d="M740.0,475.0 746.7,471.7 752.5,475.0"/>
<path fill="none" stroke="#fff" stroke-opacity=".42" stroke-width=".7" d="M555.8,436.7 556.7,426.7 558.3,418.3 561.7,410.0 565.0,401.7 568.3,393.3 572.5,385.0 575.8,378.3 580.0,374.2 584.2,371.7 588.3,370.0 591.7,367.5"/>
<path fill="none" stroke="#fff" stroke-opacity=".42" stroke-width=".7" d="M586.7,395.8 585.8,388.3 584.2,380.8 581.7,375.8 580.0,374.2"/>
<path fill="none" stroke="#fff" stroke-opacity=".42" stroke-width=".7" d="M584.2,371.7 588.3,373.3 593.3,369.2 596.7,365.0 600.0,366.7"/>
<path fill="none" stroke="#fff" stroke-opacity=".42" stroke-width=".7" d="M509.2,498.7 508.0,508.3 509.2,518.3"/>
<path fill="none" stroke="#fff" stroke-opacity=".42" stroke-width=".7" d="M527.2,499.2 535.0,501.7"/>
<path fill="none" stroke="#fff" stroke-opacity=".42" stroke-width=".7" d="M533.3,466.7 538.3,470.0 544.2,474.2 543.3,481.7 546.7,485.0 547.5,490.0 546.7,495.8"/>
<path fill="none" stroke="#fff" stroke-opacity=".42" stroke-width=".7" d="M544.2,474.2 550.0,471.7 553.3,466.7 551.7,460.0 548.7,455.0"/>
<path fill="none" stroke="#fff" stroke-opacity=".42" stroke-width=".7" d="M543.3,481.7 550.0,483.3 558.3,481.7 563.3,483.3 561.7,490.8"/>
<path fill="none" stroke="#fff" stroke-opacity=".42" stroke-width=".7" d="M563.3,455.3 564.2,461.7 563.3,468.3 558.3,470.0 553.3,466.7"/>
<path fill="none" stroke="#fff" stroke-opacity=".42" stroke-width=".7" d="M563.3,468.3 570.0,471.7 578.3,472.5 585.0,470.0 586.7,465.0 585.8,460.0"/>
<path fill="none" stroke="#fff" stroke-opacity=".42" stroke-width=".7" d="M563.3,483.3 570.0,480.0 578.3,472.5"/>
<path fill="none" stroke="#fff" stroke-opacity=".42" stroke-width=".7" d="M570.0,480.0 573.3,486.7 581.7,488.3 588.3,485.0 596.7,483.3 602.5,488.3"/>
<path fill="none" stroke="#fff" stroke-opacity=".42" stroke-width=".7" d="M585.0,470.0 593.3,473.3 600.0,478.3 596.7,483.3"/>
<path fill="none" stroke="#fff" stroke-opacity=".42" stroke-width=".7" d="M581.7,488.3 583.3,495.0 580.0,500.0 575.0,501.7 571.7,504.2"/>
<path fill="none" stroke="#fff" stroke-opacity=".42" stroke-width=".7" d="M583.3,495.0 591.7,495.8 597.5,500.0"/>
<path fill="none" stroke="#fff" stroke-opacity=".42" stroke-width=".7" d="M580.0,500.0 583.3,505.0 586.7,507.5"/>
<path fill="none" stroke="#fff" stroke-opacity=".42" stroke-width=".7" d="M586.7,436.7 596.7,438.3"/>
<path fill="none" stroke="#fff" stroke-opacity=".42" stroke-width=".7" d="M586.7,443.7 597.5,443.7"/>
<path fill="none" stroke="#fff" stroke-opacity=".42" stroke-width=".7" d="M580.0,453.7 586.7,455.0"/>
<path fill="none" stroke="#fff" stroke-opacity=".42" stroke-width=".7" d="M350.0,680.0 352.2,688.9 351.7,697.8 350.0,708.9 347.8,720.0 346.1,731.1 345.6,742.2 344.4,753.3 342.8,760.0 344.4,767.8 348.9,772.2 352.2,774.4"/>
<path fill="none" stroke="#fff" stroke-opacity=".42" stroke-width=".7" d="M326.2,617.5 333.8,618.8 338.8,621.2 342.5,620.0 350.0,627.5"/>
<path fill="none" stroke="#fff" stroke-opacity=".42" stroke-width=".7" d="M325.0,625.5 331.2,627.5 337.5,622.5 342.5,620.0"/>
<path fill="none" stroke="#fff" stroke-opacity=".42" stroke-width=".7" d="M370.0,672.5 380.0,676.2 387.5,681.2"/>
<path fill="none" stroke="#fff" stroke-opacity=".42" stroke-width=".7" d="M370.0,672.5 373.0,685.0 383.8,697.5"/>
<path fill="none" stroke="#fff" stroke-opacity=".42" stroke-width=".7" d="M380.0,599.5 382.0,610.0"/>
<path fill="none" stroke="#fff" stroke-opacity=".42" stroke-width=".7" d="M387.0,603.8 388.0,610.5"/>
<path fill="none" stroke="#fff" stroke-opacity=".42" stroke-width=".7" d="M588.0,565.8 613.3,565.8"/>
<path fill="none" stroke="#fff" stroke-opacity=".42" stroke-width=".7" d="M536.7,573.3 565.8,568.3"/>
<path fill="none" stroke="#fff" stroke-opacity=".42" stroke-width=".7" d="M535.8,592.5 540.0,586.7 548.3,584.2 556.7,585.0 563.3,585.0"/>
<path fill="none" stroke="#fff" stroke-opacity=".42" stroke-width=".7" d="M553.3,605.8 556.7,600.0 563.3,593.3 565.0,593.3"/>
<path fill="none" stroke="#fff" stroke-opacity=".42" stroke-width=".7" d="M590.0,592.5 596.7,595.0 603.3,593.3 613.3,595.0"/>
<path fill="none" stroke="#fff" stroke-opacity=".42" stroke-width=".7" d="M602.5,608.3 608.3,609.2 615.0,606.7 620.0,608.3"/>
<path fill="none" stroke="#fff" stroke-opacity=".42" stroke-width=".7" d="M603.3,623.3 613.3,624.2 626.7,633.3"/>
<path fill="none" stroke="#fff" stroke-opacity=".42" stroke-width=".7" d="M604.2,638.3 610.0,641.7 615.0,643.3 627.5,646.7"/>
<path fill="none" stroke="#fff" stroke-opacity=".42" stroke-width=".7" d="M560.0,633.3 570.0,633.3"/>
<path fill="none" stroke="#fff" stroke-opacity=".42" stroke-width=".7" d="M557.5,661.7 571.7,662.5 583.3,658.3"/>
<path fill="none" stroke="#fff" stroke-opacity=".42" stroke-width=".7" d="M578.3,686.7 579.2,663.3"/>
<path fill="none" stroke="#fff" stroke-opacity=".42" stroke-width=".7" d="M579.2,663.3 592.5,663.3"/>
<path fill="none" stroke="#fff" stroke-opacity=".42" stroke-width=".7" d="M700.8,560.0 705.0,553.3 710.0,546.7 713.3,536.7 717.5,530.0"/>
<path fill="none" stroke="#fff" stroke-opacity=".42" stroke-width=".7" d="M730.0,530.8 736.7,536.7 745.0,540.0 751.7,542.5"/>
<path fill="none" stroke="#fff" stroke-opacity=".42" stroke-width=".7" d="M753.3,560.0 754.2,553.3 756.7,548.3 761.7,550.0"/>
</g>
<!-- left chart -->
<text class="h" x="31.8" y="814" textLength="278.5" lengthAdjust="spacingAndGlyphs">Number of countries:</text>
<rect x="168.5" y="840" width="1.5" height="124" fill="#e6e6e6"/>
<rect x="170" y="844.5" width="282.5" height="31" fill="#44a2cb"/>
<rect x="170" y="885.5" width="72.5" height="31.5" fill="#fb9272"/>
<rect x="170" y="927" width="176" height="31" fill="#fcc24e"/>
<text class="lb" x="72.5" y="867.5" textLength="82.5" lengthAdjust="spacingAndGlyphs">In favor</text>
<text class="lb" x="70.8" y="908.8" textLength="84.2" lengthAdjust="spacingAndGlyphs">Against</text>
<text class="lb" x="31" y="950" textLength="124" lengthAdjust="spacingAndGlyphs">Abstention</text>
<text class="lb" x="462.5" y="867.5" textLength="27.5" lengthAdjust="spacingAndGlyphs">93</text>
<text class="lb" x="254.5" y="908.8" textLength="27" lengthAdjust="spacingAndGlyphs">24</text>
<text class="lb" x="357.5" y="950" textLength="27.5" lengthAdjust="spacingAndGlyphs">58</text>
<!-- right chart -->
<text class="h" x="533.8" y="814" textLength="334.5" lengthAdjust="spacingAndGlyphs">Pct. of global population:</text>
<rect x="664" y="836" width="1.5" height="125" fill="#e6e6e6"/>
<rect x="665.5" y="841.3" width="143" height="31.2" fill="#44a2cb"/>
<rect x="665.5" y="882.5" width="166" height="31.3" fill="#fb9272"/>
<rect x="665.5" y="923.8" width="276.5" height="31.2" fill="#fcc24e"/>
<text class="lb" x="569.5" y="867.5" textLength="83" lengthAdjust="spacingAndGlyphs">In favor</text>
<text class="lb" x="567.5" y="908.8" textLength="85" lengthAdjust="spacingAndGlyphs">Against</text>
<text class="lb" x="528" y="950" textLength="124.5" lengthAdjust="spacingAndGlyphs">Abstention</text>
<text class="lb" x="821" y="867.5" textLength="69" lengthAdjust="spacingAndGlyphs">23.7%</text>
<text class="lb" x="845" y="908.8" textLength="69" lengthAdjust="spacingAndGlyphs">27.4%</text>
<text class="lb" x="951" y="950" textLength="70" lengthAdjust="spacingAndGlyphs">45.6%</text>
<!-- source -->
<text class="src" x="34" y="1021.8" textLength="587" lengthAdjust="spacingAndGlyphs">SOURCE: USA TODAY analysis; UN Population Fund dashboard</text>
<text class="src" x="34" y="1050" textLength="371" lengthAdjust="spacingAndGlyphs">Graphic by Stephen Beard, USA TODAY</text>
<!-- logo -->
<circle cx="821.6" cy="1012.8" r="20.2" fill="#1a9cf8"/>
<text x="851.3" y="1022.9" font-weight="bold" font-size="29.5" fill="#404040" stroke="#404040" stroke-width="1.3" stroke-linejoin="round" textLength="173.5" lengthAdjust="spacingAndGlyphs">USA TODAY</text>
</svg>
</body></html>
